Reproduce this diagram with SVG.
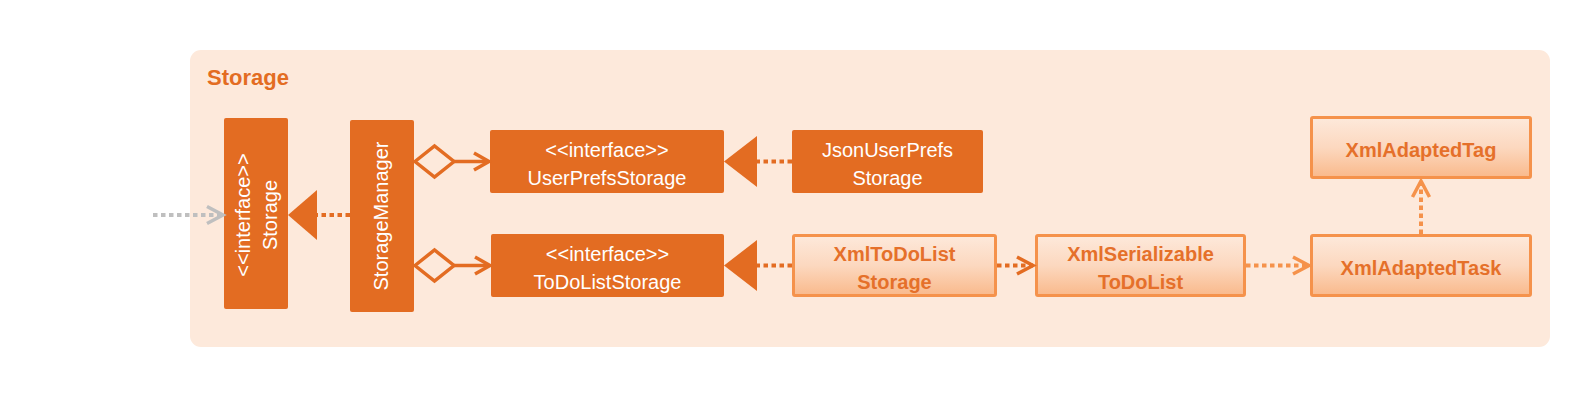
<svg xmlns="http://www.w3.org/2000/svg" width="1576" height="402" viewBox="0 0 1576 402">
<defs>
<linearGradient id="lg" x1="0" y1="0" x2="0" y2="1">
<stop offset="0" stop-color="#FDE9DB"/>
<stop offset="0.5" stop-color="#FCD8BF"/>
<stop offset="1" stop-color="#F9B98B"/>
</linearGradient>
</defs>
<style>
.pkg{fill:#FDE9DB}
.title{font-family:"Liberation Sans",Arial,sans-serif;font-weight:bold;font-size:22px;fill:#E36C22}
.dk{fill:#E36C22}
.lt{fill:url(#lg);stroke:#F5924B;stroke-width:3}
.wt{font-family:"Liberation Sans",Arial,sans-serif;font-size:20px;fill:#FFFFFF;text-anchor:middle}
.ot{font-family:"Liberation Sans",Arial,sans-serif;font-weight:bold;font-size:20px;fill:#E5702A;text-anchor:middle}
.dot{fill:none;stroke:#E36C22;stroke-width:4;stroke-dasharray:4.5 3.5}
.dotl{fill:none;stroke:#F5924B;stroke-width:4;stroke-dasharray:4.5 3.5}
.dotg{fill:none;stroke:#BFBFBF;stroke-width:4;stroke-dasharray:4.5 3.5}
.ln{fill:none;stroke:#E36C22;stroke-width:3.5}
.chev{fill:none;stroke:#E36C22;stroke-width:3.5;stroke-linejoin:miter}
.chevl{fill:none;stroke:#F5924B;stroke-width:3.5;stroke-linejoin:miter}
.chevg{fill:none;stroke:#BFBFBF;stroke-width:3.5;stroke-linejoin:miter}
.tri{fill:#E36C22}
.dia{fill:#FDE9DB;stroke:#E36C22;stroke-width:3.5}
</style>
<g id="storage-package">
<rect class="pkg" x="190" y="50" width="1360" height="297" rx="11"/>
<text class="title" x="207" y="85">Storage</text>
</g>
<g id="node-storage">
<rect class="dk" x="224" y="118" width="64" height="191" rx="2"/>
<g transform="translate(256,215) rotate(-90)">
<text class="wt" x="0" y="-6.5">&lt;&lt;interface&gt;&gt;</text>
<text class="wt" x="0" y="21">Storage</text>
</g>
</g>
<g id="node-storagemanager">
<rect class="dk" x="350" y="120" width="64" height="192" rx="2"/>
<text class="wt" transform="translate(382,216) rotate(-90)" x="0" y="6">StorageManager</text>
</g>
<g id="node-userprefsstorage">
<rect class="dk" x="490" y="130" width="234" height="63" rx="2"/>
<text class="wt" x="607" y="156.5">&lt;&lt;interface&gt;&gt;</text>
<text class="wt" x="607" y="184.5">UserPrefsStorage</text>
</g>
<g id="node-jsonuserprefsstorage">
<rect class="dk" x="792" y="130" width="191" height="63" rx="2"/>
<text class="wt" x="887.5" y="156.5">JsonUserPrefs</text>
<text class="wt" x="887.5" y="184.5">Storage</text>
</g>
<g id="node-todoliststorage">
<rect class="dk" x="491" y="234" width="233" height="63" rx="2"/>
<text class="wt" x="607.5" y="260.5">&lt;&lt;interface&gt;&gt;</text>
<text class="wt" x="607.5" y="288.5">ToDoListStorage</text>
</g>
<g id="node-xmltodoliststorage">
<rect class="lt" x="793.5" y="235.5" width="202" height="60" rx="1.5"/>
<text class="ot" x="894.5" y="260.5">XmlToDoList</text>
<text class="ot" x="894.5" y="288.5">Storage</text>
</g>
<g id="node-xmlserializabletodolist">
<rect class="lt" x="1036.5" y="235.5" width="208" height="60" rx="1.5"/>
<text class="ot" x="1140.5" y="260.5">XmlSerializable</text>
<text class="ot" x="1140.5" y="288.5">ToDoList</text>
</g>
<g id="node-xmladaptedtask">
<rect class="lt" x="1311.5" y="235.5" width="219" height="60" rx="1.5"/>
<text class="ot" x="1421" y="275">XmlAdaptedTask</text>
</g>
<g id="node-xmladaptedtag">
<rect class="lt" x="1311.5" y="117.5" width="219" height="60" rx="1.5"/>
<text class="ot" x="1421" y="157">XmlAdaptedTag</text>
</g>
<g id="connectors">
<line class="dotg" x1="153" y1="215" x2="222" y2="215"/>
<path class="chevg" d="M207,206.5 L223,215 L207,223.5"/>
<line class="dot" x1="350" y1="215" x2="317" y2="215"/>
<path class="tri" d="M288,215 L317,190 L317,240 Z"/>
<path class="dia" d="M415,161.5 L434.5,146 L454,161.5 L434.5,177 Z"/>
<line class="ln" x1="454" y1="161.5" x2="488" y2="161.5"/>
<path class="chev" d="M474,153 L489,161.5 L474,170"/>
<path class="dia" d="M415,265.5 L434.5,250 L454,265.5 L434.5,281 Z"/>
<line class="ln" x1="454" y1="265.5" x2="489" y2="265.5"/>
<path class="chev" d="M475,257 L490,265.5 L475,274"/>
<line class="dot" x1="792" y1="161.5" x2="757" y2="161.5"/>
<path class="tri" d="M724,161.5 L757,136 L757,187 Z"/>
<line class="dot" x1="792" y1="265.5" x2="757" y2="265.5"/>
<path class="tri" d="M724,265.5 L757,240 L757,291 Z"/>
<line class="dot" x1="997" y1="265.5" x2="1033" y2="265.5"/>
<path class="chev" d="M1017,257 L1033,265.5 L1017,274"/>
<line class="dotl" x1="1246" y1="265.5" x2="1308" y2="265.5"/>
<path class="chevl" d="M1293,257 L1309,265.5 L1293,274"/>
<line class="dotl" x1="1421" y1="234" x2="1421" y2="181"/>
<path class="chevl" d="M1412.5,197 L1421,181 L1429.5,197"/>
</g>
</svg>
